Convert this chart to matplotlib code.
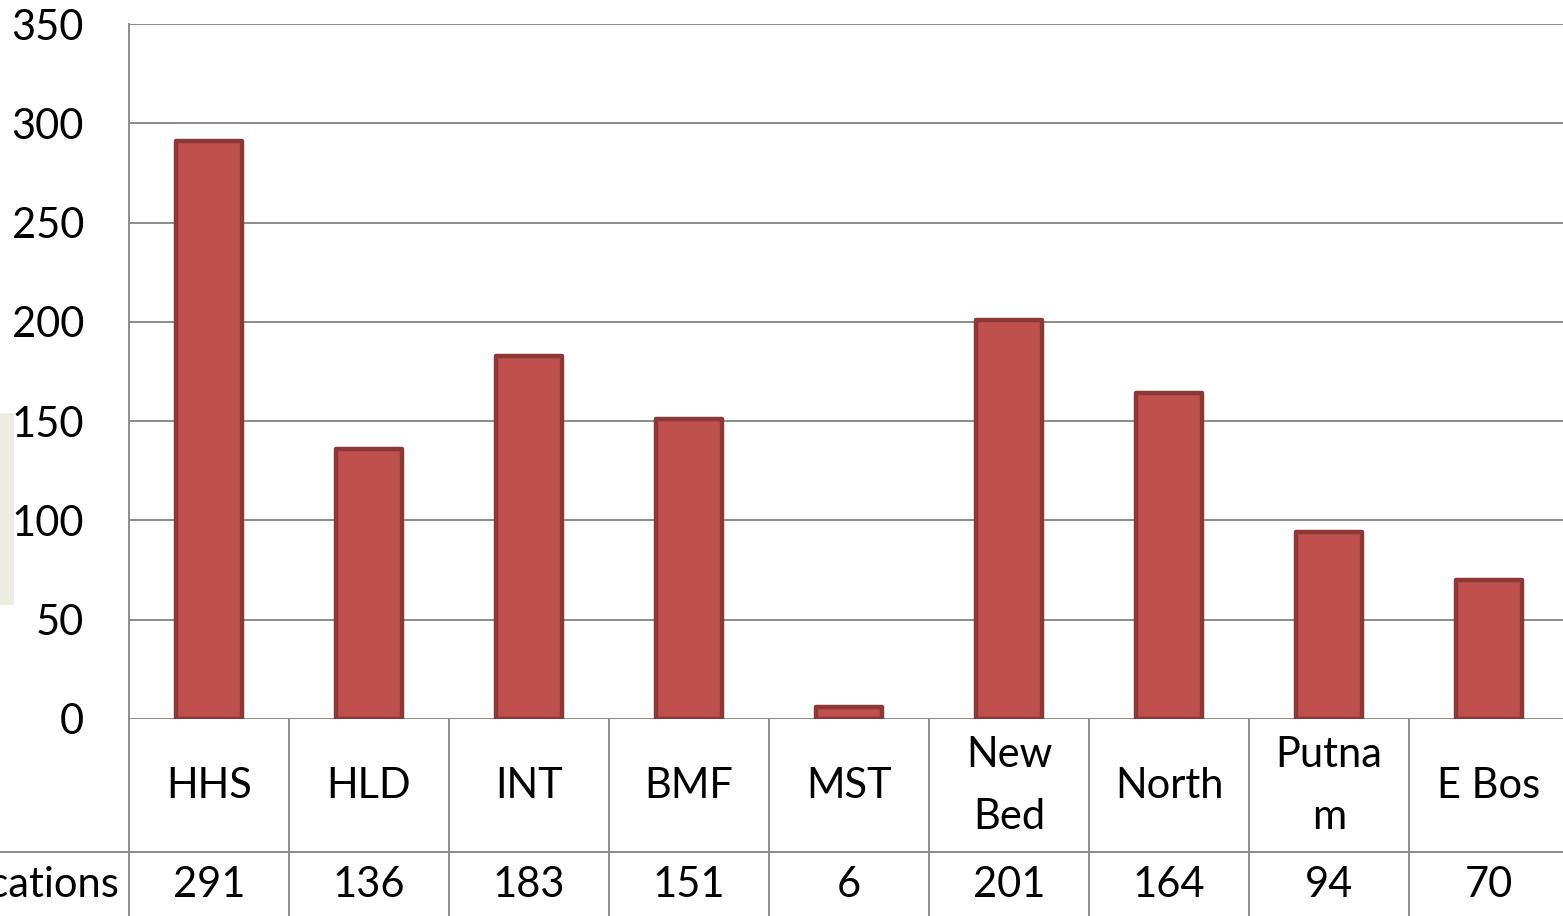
import matplotlib
matplotlib.use("Agg")
import matplotlib.pyplot as plt
import matplotlib.transforms as mtransforms
from matplotlib.patches import Rectangle

# data
kategorie = ["HHS", "HLD", "INT", "BMF", "MST", "New\nBed", "North", "Putna\nm", "E Bos"]
hodnoty = [291, 136, 183, 151, 6, 201, 164, 94, 70]
nazov_radu = "Applications"

W, H = 1563, 916
plt.rcParams["font.family"] = ["Lato", "DejaVu Sans"]
fs = 30

fig = plt.figure(figsize=(W / 100, H / 100), dpi=100)
fig.patch.set_facecolor("white")

# bezovy obdlznik vlavo
fig.patches.append(Rectangle((0, 1 - 605 / H), 14 / W, (605 - 413) / H,
                             transform=fig.transFigure, facecolor="#EEECE1",
                             edgecolor="none", zorder=0))

ax = fig.add_axes([129 / W, (H - 719) / H, 1440 / W, 695 / H])
x = list(range(len(kategorie)))
ax.bar(x, hodnoty, width=0.41, color="#C0504D", edgecolor="#8C3836",
       linewidth=3.2, joinstyle="round", zorder=3)

ax.set_xlim(-0.5, len(kategorie) - 0.5)
ax.set_ylim(0, 350)
ax.set_yticks(range(0, 351, 50))
ax.tick_params(axis="y", length=0, pad=45 * 0.72, labelsize=fs)
ax.set_xticks([])
ax.grid(axis="y", color="#8C8C8C", linewidth=1.4, zorder=0)
for s in ["top", "right", "bottom"]:
    ax.spines[s].set_visible(False)
ax.spines["left"].set_color("#8C8C8C")
ax.spines["left"].set_linewidth(1.4)

# tabulka pod grafom
tr = mtransforms.blended_transform_factory(ax.transData, fig.transFigure)
line_kw = dict(color="#8C8C8C", linewidth=1.4, clip_on=False)
for i in range(len(kategorie) + 1):
    xb = i - 0.5
    ax.plot([xb, xb], [1 - 719 / H, 0], transform=tr, **line_kw)
fig.add_artist(plt.Line2D([0, 1], [1 - 852 / H, 1 - 852 / H],
                          transform=fig.transFigure, color="#8C8C8C", linewidth=1.4))

for i, (k, v) in enumerate(zip(kategorie, hodnoty)):
    ax.text(i, 1 - 786 / H, k, transform=tr, ha="center", va="center",
            fontsize=fs, linespacing=1.75)
    ax.text(i, 1 - 885 / H, str(v), transform=tr, ha="center", va="center",
            fontsize=fs)

fig.text(120 / W, 1 - 885 / H, nazov_radu, ha="right", va="center", fontsize=fs)

fig.savefig("out.png", dpi=100)
